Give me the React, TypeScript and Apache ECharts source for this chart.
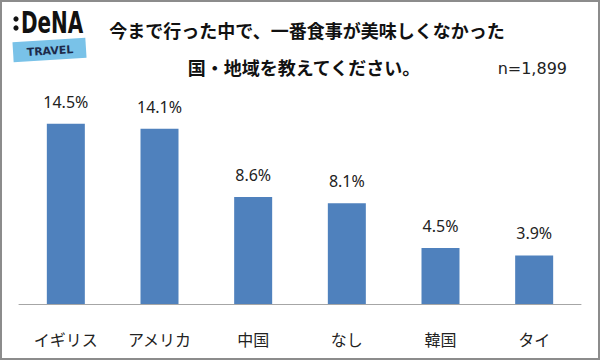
import React, { useEffect, useRef } from "react";
import * as echarts from "echarts";

const categories = ["イギリス", "アメリカ", "中国", "なし", "韓国", "タイ"];
const values = [14.5, 14.1, 8.6, 8.1, 4.5, 3.9];
const titleLine1 = "今まで行った中で、一番食事が美味しくなかった";
const titleLine2 = "国・地域を教えてください。";
const sampleNote = "n=1,899";

const FONT = '"Noto Sans CJK JP", "Noto Sans", sans-serif';
const NUM_FONT = '"Noto Sans", sans-serif';

export default function App() {
  const ref = useRef<HTMLDivElement>(null);
  useEffect(() => {
    if (!ref.current) return;
    const chart = echarts.init(ref.current, undefined, { renderer: "svg" });
    chart.setOption({
      animation: false,
      backgroundColor: "#ffffff",
      grid: { left: 19, right: 19, top: 105, bottom: 56, containLabel: false },
      xAxis: {
        type: "category",
        data: categories,
        axisLine: { lineStyle: { color: "#a6a6a6", width: 1 } },
        axisTick: { show: false },
        axisLabel: {
          color: "#222222",
          fontSize: 16,
          fontFamily: FONT,
          margin: 25,
          lineHeight: 20,
        },
      },
      yAxis: {
        type: "value",
        min: 0,
        max: 16,
        show: false,
        splitLine: { show: false },
      },
      series: [
        {
          type: "bar",
          data: values,
          barWidth: 38,
          itemStyle: { color: "#4f81bd" },
          label: {
            show: true,
            position: "top",
            distance: 14,
            color: "#222222",
            fontSize: 16,
            fontFamily: NUM_FONT,
            formatter: (p: any) => p.value.toFixed(1) + "%",
          },
        },
      ],
      graphic: [
        {
          type: "rect",
          shape: { x: 1, y: 1, width: 598, height: 358 },
          style: { fill: "none", stroke: "#8c8c8c", lineWidth: 2 },
          silent: true,
        },
        {
          type: "text",
          x: 307,
          y: 30,
          style: {
            text: titleLine1,
            fill: "#111111",
            font: `bold 18px ${FONT}`,
            textAlign: "center",
            textVerticalAlign: "middle",
          },
        },
        {
          type: "text",
          x: 304,
          y: 67,
          style: {
            text: titleLine2,
            fill: "#111111",
            font: `bold 18px ${FONT}`,
            textAlign: "center",
            textVerticalAlign: "middle",
          },
        },
        {
          type: "text",
          x: 567,
          y: 68,
          style: {
            text: sampleNote,
            fill: "#222222",
            font: `16px "DejaVu Sans", sans-serif`,
            textAlign: "right",
            textVerticalAlign: "middle",
          },
        },
        // logo
        {
          type: "circle",
          shape: { cx: 16, cy: 19, r: 2.6 },
          style: { fill: "#111111" },
        },
        {
          type: "circle",
          shape: { cx: 16, cy: 28, r: 2.6 },
          style: { fill: "#111111" },
        },
        {
          type: "text",
          x: 21,
          y: 23,
          scaleX: 0.74,
          style: {
            text: "DeNA",
            fill: "#111111",
            font: `bold 30px "DejaVu Sans Condensed", "DejaVu Sans", sans-serif`,
            textAlign: "left",
            textVerticalAlign: "middle",
          },
        },
        {
          type: "group",
          x: 50,
          y: 50,
          rotation: 0.06,
          children: [
            {
              type: "rect",
              shape: { x: -37, y: -10, width: 73, height: 20 },
              style: { fill: "#79c2e8" },
            },
            {
              type: "text",
              x: 0,
              y: 1,
              style: {
                text: "TRAVEL",
                fill: "#1d2a4a",
                font: `bold 11px "DejaVu Sans", sans-serif`,
                textAlign: "center",
                textVerticalAlign: "middle",
              },
            },
          ],
        },
      ],
    });
    return () => chart.dispose();
  }, []);
  return (
    <div
      ref={ref}
      style={{ position: "fixed", left: 0, top: 0, width: 600, height: 360 }}
    />
  );
}
